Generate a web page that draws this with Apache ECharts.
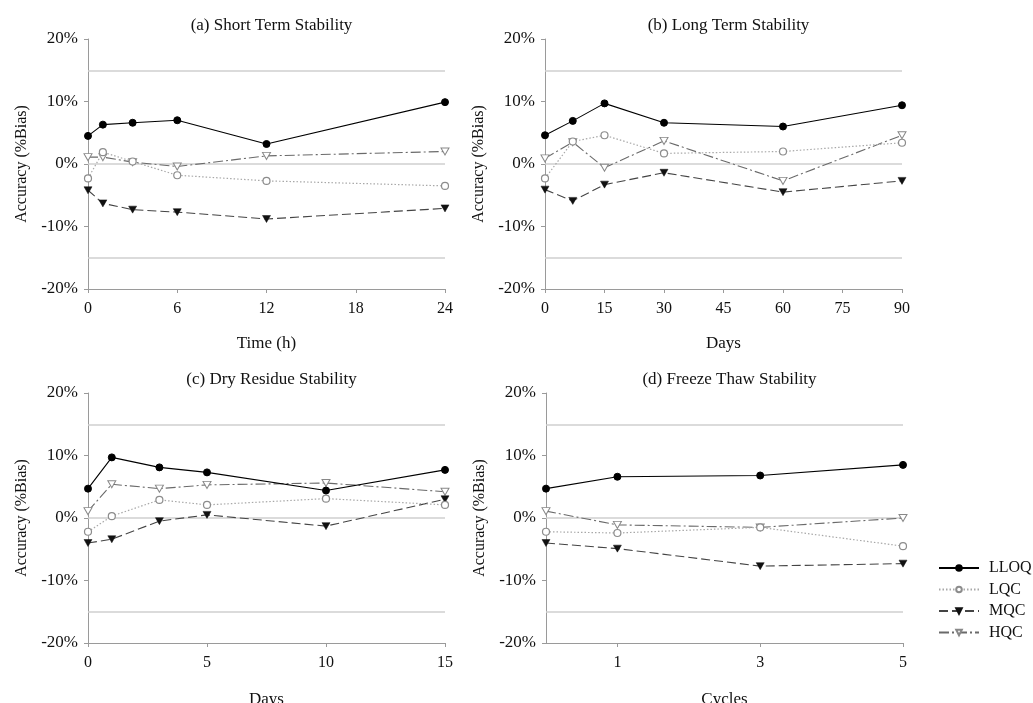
<!DOCTYPE html>
<html>
<head>
<meta charset="utf-8">
<script src="https://cdn.jsdelivr.net/npm/echarts@6/dist/echarts.min.js"></script>
<style>
  html, body { margin: 0; padding: 0; background: #fff; }
  #chart { width: 1033px; height: 703px; }
</style>
</head>
<body>
<div id="chart"></div>
<script>
// Accuracy (%Bias) of the four QC levels under each stability condition
const seriesNames = ['LLOQ', 'LQC', 'MQC', 'HQC'];

const shortHours = [0, 1, 3, 6, 12, 24];
const shortLLOQ = [4.5, 6.3, 6.6, 7.0, 3.2, 9.9];
const shortLQC  = [-2.3, 1.9, 0.4, -1.8, -2.7, -3.5];
const shortMQC  = [-4.2, -6.3, -7.3, -7.7, -8.8, -7.1];
const shortHQC  = [1.1, 1.1, 0.3, -0.4, 1.3, 2.0];

const longDays = [0, 7, 15, 30, 60, 90];
const longLLOQ = [4.6, 6.9, 9.7, 6.6, 6.0, 9.4];
const longLQC  = [-2.3, 3.6, 4.6, 1.7, 2.0, 3.4];
const longMQC  = [-4.1, -5.9, -3.3, -1.4, -4.5, -2.7];
const longHQC  = [0.9, 3.5, -0.6, 3.7, -2.7, 4.6];

const dryDays = [0, 1, 3, 5, 10, 15];
const dryLLOQ = [4.7, 9.7, 8.1, 7.3, 4.4, 7.7];
const dryLQC  = [-2.2, 0.3, 2.9, 2.1, 3.1, 2.1];
const dryMQC  = [-4.0, -3.4, -0.5, 0.5, -1.3, 3.0];
const dryHQC  = [1.1, 5.4, 4.7, 5.3, 5.6, 4.2];

const ftCycles = [0, 1, 3, 5];
const ftLLOQ = [4.7, 6.6, 6.8, 8.5];
const ftLQC  = [-2.2, -2.4, -1.5, -4.5];
const ftMQC  = [-4.0, -4.9, -7.7, -7.3];
const ftHQC  = [1.1, -1.1, -1.5, 0.0];

const panelTitles = ['(a) Short Term Stability', '(b) Long Term Stability',
                     '(c) Dry Residue Stability', '(d) Freeze Thaw Stability'];
const xNames = ['Time (h)', 'Days', 'Days', 'Cycles'];
const yName = 'Accuracy (%Bias)';
const acceptanceLines = [15, 0, -15];

const panels = [
  { x: shortHours, vals: [shortLLOQ, shortLQC, shortMQC, shortHQC], min: 0, max: 24, interval: 6 },
  { x: longDays,   vals: [longLLOQ, longLQC, longMQC, longHQC],     min: 0, max: 90, interval: 15 },
  { x: dryDays,    vals: [dryLLOQ, dryLQC, dryMQC, dryHQC],         min: 0, max: 15, interval: 5 },
  { x: ftCycles,   vals: [ftLLOQ, ftLQC, ftMQC, ftHQC],             min: 0, max: 5, interval: 1, custom: [1, 3, 5] }
];

const FONT = 'Liberation Serif';
const grids = [
  { left: 88,  top: 39,  width: 357, height: 250 },
  { left: 545, top: 39,  width: 357, height: 250 },
  { left: 88,  top: 393, width: 357, height: 250 },
  { left: 546, top: 393, width: 357, height: 250 }
].map(g => Object.assign(g, { outerBoundsMode: 'none', containLabel: false }));

const downTri = 'path://M0,0 L10,0 L5,9 Z';
const styles = [
  { line: { color: '#000', width: 1.1, type: 'solid' }, symbol: 'circle', size: 7,
    item: { color: '#000', borderColor: '#000', borderWidth: 1 } },
  { line: { color: '#a8a8a8', width: 1.2, type: [1.5, 2] }, symbol: 'circle', size: 7,
    item: { color: '#fff', borderColor: '#8c8c8c', borderWidth: 1.2 } },
  { line: { color: '#444', width: 1.1, type: [9, 4] }, symbol: downTri, size: [8, 7],
    item: { color: '#111', borderColor: '#111', borderWidth: 0.5 } },
  { line: { color: '#6a6a6a', width: 1.1, type: [10, 3, 2, 3] }, symbol: downTri, size: [8, 7],
    item: { color: '#fff', borderColor: '#888', borderWidth: 1 } }
];

const axisGray = '#9a9a9a';
const xAxes = [], yAxes = [], series = [], titles = [];

panels.forEach((p, i) => {
  const g = grids[i];
  titles.push({
    text: panelTitles[i],
    left: g.left + g.width / 2, top: i < 2 ? 12 : 366,
    textAlign: 'center',
    textStyle: { fontFamily: FONT, fontSize: 17, fontWeight: 'normal', color: '#111' }
  });
  const xa = {
    type: 'value', gridIndex: i, min: p.min, max: p.max, interval: p.interval,
    name: xNames[i], nameLocation: 'middle', nameGap: i < 2 ? 46 : 48,
    nameTextStyle: { fontFamily: FONT, fontSize: 17, color: '#111' },
    axisLine: { onZero: false, lineStyle: { color: axisGray, width: 1 } },
    axisTick: { show: true, inside: false, length: 4, lineStyle: { color: axisGray } },
    axisLabel: { fontFamily: FONT, fontSize: 16, color: '#111', margin: 12 },
    splitLine: { show: false }
  };
  if (p.custom) {
    xa.axisTick.customValues = p.custom;
    xa.axisLabel.customValues = p.custom;
  }
  xAxes.push(xa);
  yAxes.push({
    type: 'value', gridIndex: i, min: -20, max: 20, interval: 10,
    name: yName, nameLocation: 'middle', nameRotate: 90, nameGap: 58,
    nameTextStyle: { fontFamily: FONT, fontSize: 16, color: '#111' },
    axisLine: { show: true, onZero: false, lineStyle: { color: axisGray, width: 1 } },
    axisTick: { show: true, inside: false, length: 4, lineStyle: { color: axisGray } },
    axisLabel: { fontFamily: FONT, fontSize: 17, color: '#111', margin: 10, formatter: '{value}%' },
    splitLine: { show: false }
  });
  p.vals.forEach((vals, k) => {
    const st = styles[k];
    const s = {
      name: seriesNames[k], type: 'line', xAxisIndex: i, yAxisIndex: i,
      data: p.x.map((xv, j) => [xv, vals[j]]),
      symbol: st.symbol, symbolSize: st.size, showAllSymbol: true,
      lineStyle: st.line, itemStyle: st.item,
      z: 10 - k, animation: false, silent: true
    };
    if (k === 0) {
      s.markLine = {
        silent: true, symbol: 'none', label: { show: false }, animation: false,
        lineStyle: { color: '#cfcfcf', width: 1.6, type: 'solid' },
        data: acceptanceLines.map(v => ({ yAxis: v }))
      };
    }
    series.push(s);
  });
});

const chart = echarts.init(document.getElementById('chart'));
chart.setOption({
  backgroundColor: '#fff',
  animation: false,
  title: titles,
  grid: grids,
  xAxis: xAxes,
  yAxis: yAxes,
  legend: {
    data: seriesNames, orient: 'vertical', left: 938, top: 560, padding: 0,
    itemWidth: 40, itemHeight: 7, itemGap: 5.5,
    textStyle: { fontFamily: FONT, fontSize: 16, color: '#111', padding: [0, 0, 0, 5] },
    selectedMode: false
  },
  series: series
});
</script>
</body>
</html>
